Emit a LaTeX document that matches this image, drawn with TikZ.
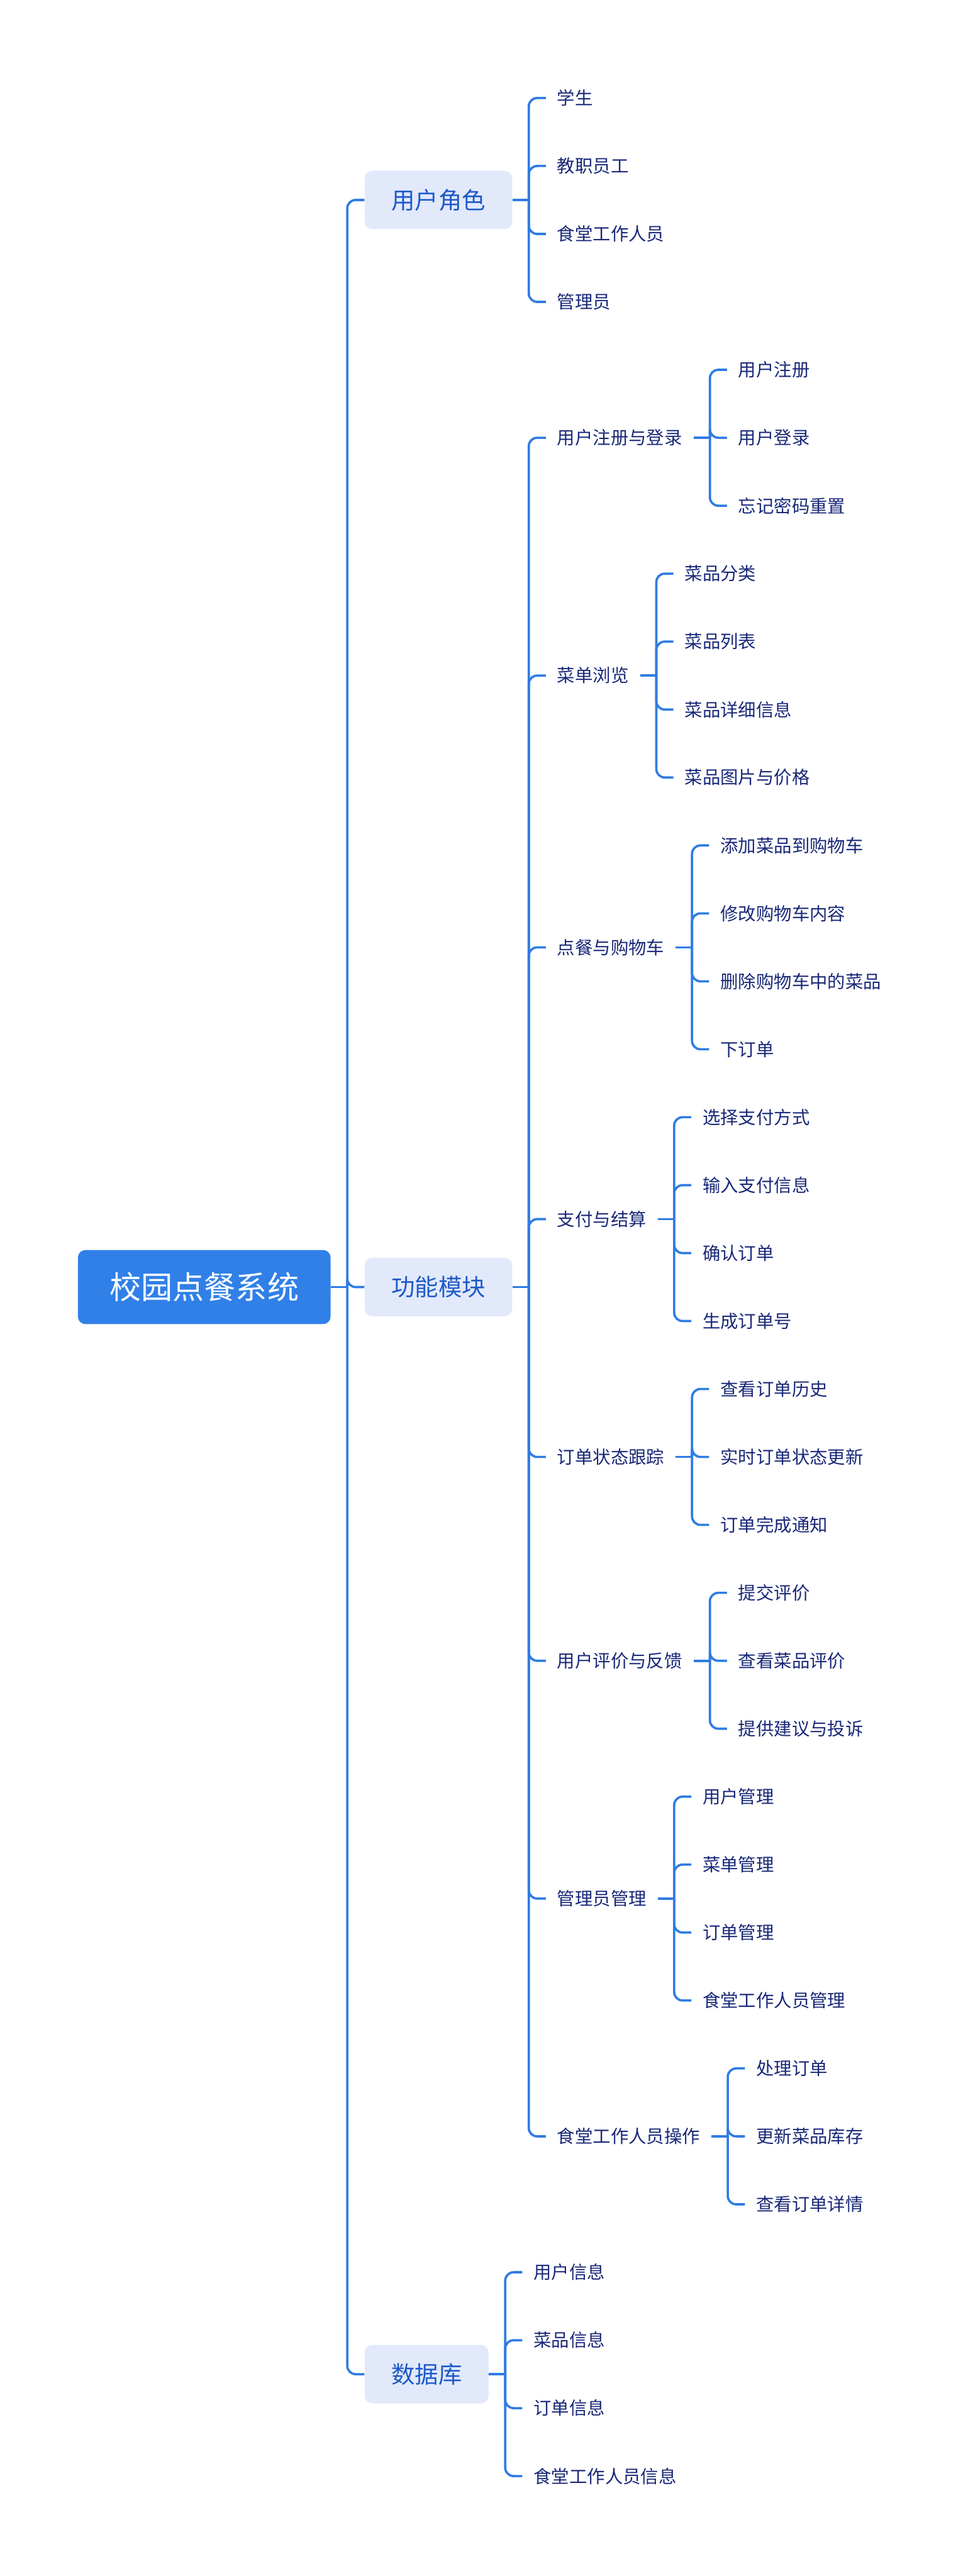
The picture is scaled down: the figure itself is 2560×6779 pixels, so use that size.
\documentclass[tikz,border=0pt]{standalone}
\usepackage{fontspec}
\setmainfont{Noto Sans CJK SC}
\usetikzlibrary{calc}
\definecolor{lineblue}{RGB}{47,124,227}
\definecolor{rootblue}{RGB}{48,128,232}
\definecolor{lvfill}{RGB}{226,233,251}
\definecolor{lvtext}{RGB}{30,90,200}
\definecolor{leaftext}{RGB}{25,40,120}
\tikzset{
  conn/.style={draw=lineblue, line width=1.5pt},
  rootbox/.style={fill=rootblue, rounded corners=5pt, text=white, minimum width=166.25pt, minimum height=48.75pt, inner sep=0pt, font=\fontsize{20.75}{24}\selectfont},
  lvbox/.style={fill=lvfill, rounded corners=5pt, text=lvtext, inner xsep=17.5pt, inner ysep=0pt, minimum height=38.5pt, font=\fontsize{15.5}{18}\selectfont},
  leaf/.style={text=leaftext, inner xsep=7.25pt, inner ysep=3pt, font=\fontsize{11.75}{14}\selectfont},
}
\newcommand\yy[1]{258+(#1-1)*178.8}
\newcommand\kid[5][leaf]{%
  \path (#3.east) ++(88,0) coordinate (kx) (0,{\yy{#4}}) coordinate (ky);
  \node[#1, anchor=west] (#2) at (kx |- ky) {#5};
  \draw[conn, rounded corners=5.5pt] (#3b) |- (#2.west);}
\newcommand\stub[1]{\draw[conn] (#1.east) -- ++(43,0) coordinate (#1b);}
\begin{document}
\begin{tikzpicture}[x=0.25pt, y=-0.25pt]
\fill[white] (0,0) rectangle (2560,6779);
\useasboundingbox (0,0) rectangle (2560,6779);
\node[rootbox] (root) at (537.5,{\yy{18.5}}) {校园点餐系统};
\stub{root}
\kid[lvbox]{ur}{root}{2.5}{用户角色}
\kid[lvbox]{gn}{root}{18.5}{功能模块}
\kid[lvbox]{db}{root}{34.5}{数据库}
% 用户角色
\stub{ur}
\kid{ur1}{ur}{1}{学生}
\kid{ur2}{ur}{2}{教职员工}
\kid{ur3}{ur}{3}{食堂工作人员}
\kid{ur4}{ur}{4}{管理员}
% 功能模块
\stub{gn}
\kid{ga}{gn}{6}{用户注册与登录}
\kid{gb}{gn}{9.5}{菜单浏览}
\kid{gc}{gn}{13.5}{点餐与购物车}
\kid{gd}{gn}{17.5}{支付与结算}
\kid{ge}{gn}{21}{订单状态跟踪}
\kid{gf}{gn}{24}{用户评价与反馈}
\kid{gg}{gn}{27.5}{管理员管理}
\kid{gh}{gn}{31}{食堂工作人员操作}
\stub{ga}
\kid{ga1}{ga}{5}{用户注册}
\kid{ga2}{ga}{6}{用户登录}
\kid{ga3}{ga}{7}{忘记密码重置}
\stub{gb}
\kid{gb1}{gb}{8}{菜品分类}
\kid{gb2}{gb}{9}{菜品列表}
\kid{gb3}{gb}{10}{菜品详细信息}
\kid{gb4}{gb}{11}{菜品图片与价格}
\stub{gc}
\kid{gc1}{gc}{12}{添加菜品到购物车}
\kid{gc2}{gc}{13}{修改购物车内容}
\kid{gc3}{gc}{14}{删除购物车中的菜品}
\kid{gc4}{gc}{15}{下订单}
\stub{gd}
\kid{gd1}{gd}{16}{选择支付方式}
\kid{gd2}{gd}{17}{输入支付信息}
\kid{gd3}{gd}{18}{确认订单}
\kid{gd4}{gd}{19}{生成订单号}
\stub{ge}
\kid{ge1}{ge}{20}{查看订单历史}
\kid{ge2}{ge}{21}{实时订单状态更新}
\kid{ge3}{ge}{22}{订单完成通知}
\stub{gf}
\kid{gf1}{gf}{23}{提交评价}
\kid{gf2}{gf}{24}{查看菜品评价}
\kid{gf3}{gf}{25}{提供建议与投诉}
\stub{gg}
\kid{gg1}{gg}{26}{用户管理}
\kid{gg2}{gg}{27}{菜单管理}
\kid{gg3}{gg}{28}{订单管理}
\kid{gg4}{gg}{29}{食堂工作人员管理}
\stub{gh}
\kid{gh1}{gh}{30}{处理订单}
\kid{gh2}{gh}{31}{更新菜品库存}
\kid{gh3}{gh}{32}{查看订单详情}
% 数据库
\stub{db}
\kid{db1}{db}{33}{用户信息}
\kid{db2}{db}{34}{菜品信息}
\kid{db3}{db}{35}{订单信息}
\kid{db4}{db}{36}{食堂工作人员信息}
\end{tikzpicture}
\end{document}
